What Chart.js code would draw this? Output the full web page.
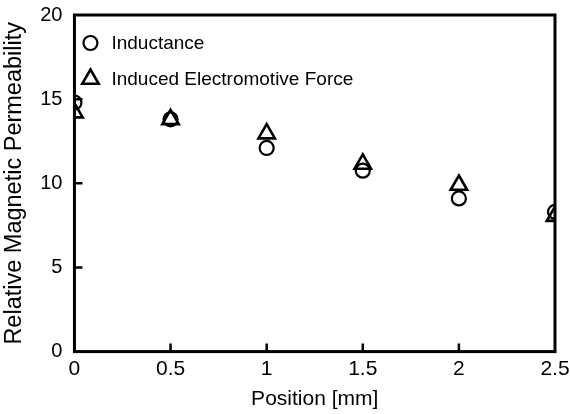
<!DOCTYPE html>
<html>
<head>
<meta charset="utf-8">
<script src="https://cdn.jsdelivr.net/npm/chart.js@4"></script>
<style>
  html, body { margin: 0; padding: 0; background: #fff; }
  #wrap { width: 570px; height: 414px; }
</style>
</head>
<body>
<div id="wrap"><canvas id="chart"></canvas></div>
<script>
const positions = [0, 0.5, 1, 1.5, 2, 2.5];
const inductance = [14.8, 13.8, 12.1, 10.75, 9.1, 8.3];
const inducedEmf = [14.2, 13.8, 12.95, 11.15, 9.9, 8.05];
const seriesNames = ['Inductance', 'Induced Electromotive Force'];

const font = '"Liberation Sans", Arial, sans-serif';

// frame around the plot plus short ticks pointing inward
const framePlugin = {
  id: 'frame',
  afterDraw(chart) {
    const { ctx, chartArea: a, scales } = chart;
    ctx.save();
    ctx.strokeStyle = '#000';
    ctx.lineWidth = 3;
    ctx.strokeRect(a.left, a.top, a.right - a.left, a.bottom - a.top);
    ctx.lineWidth = 2.5;
    ctx.beginPath();
    [0.5, 1, 1.5, 2].forEach(v => {
      const x = scales.x.getPixelForValue(v);
      ctx.moveTo(x, a.bottom);
      ctx.lineTo(x, a.bottom - 8);
    });
    [5, 10, 15].forEach(v => {
      const y = scales.y.getPixelForValue(v);
      ctx.moveTo(a.left, y);
      ctx.lineTo(a.left + 8, y);
    });
    ctx.stroke();
    ctx.restore();
  }
};

// legend sits inside the plot, top left
const insideLegend = {
  id: 'insideLegend',
  afterDraw(chart) {
    const { ctx, chartArea: a } = chart;
    ctx.save();
    ctx.font = '19px ' + font;
    ctx.textBaseline = 'middle';
    chart.data.datasets.forEach((ds, i) => {
      const y = a.top + 28 + i * 36;
      const x = a.left + 16;
      ctx.fillStyle = 'rgba(0,0,0,0)';
      ctx.strokeStyle = '#000';
      ctx.lineWidth = ds.borderWidth;
      Chart.helpers.drawPoint(ctx, {
        pointStyle: ds.pointStyle,
        radius: ds.pointRadius,
        borderWidth: ds.borderWidth
      }, x, y);
      ctx.fillStyle = '#000';
      ctx.fillText(seriesNames[i], a.left + 37, y + 1);
    });
    ctx.restore();
  }
};

new Chart(document.getElementById('chart'), {
  type: 'scatter',
  data: {
    datasets: [
      {
        label: seriesNames[0],
        data: positions.map((x, i) => ({ x, y: inductance[i] })),
        pointStyle: 'circle',
        pointRadius: 7,
        borderWidth: 2.2,
        borderColor: '#000',
        backgroundColor: 'rgba(0,0,0,0)'
      },
      {
        label: seriesNames[1],
        data: positions.map((x, i) => ({ x, y: inducedEmf[i] })),
        pointStyle: 'triangle',
        pointRadius: 9.5,
        borderWidth: 2.6,
        borderColor: '#000',
        backgroundColor: 'rgba(0,0,0,0)'
      }
    ]
  },
  options: {
    responsive: true,
    maintainAspectRatio: false,
    animation: false,
    layout: { padding: { top: 0, right: 0, left: 0, bottom: 2 } },
    plugins: {
      legend: { display: false },
      tooltip: { enabled: false }
    },
    scales: {
      x: {
        type: 'linear',
        min: 0,
        max: 2.5,
        grid: { display: false, drawTicks: false },
        border: { display: false },
        afterFit: s => { s.paddingRight = 15; },
        ticks: {
          stepSize: 0.5,
          color: '#000',
          padding: 5,
          font: { family: font, size: 21 },
          callback: v => String(v)
        },
        title: {
          display: true,
          text: 'Position [mm]',
          color: '#000',
          padding: { top: 0, bottom: 0 },
          font: { family: font, size: 21 }
        }
      },
      y: {
        min: 0,
        max: 20,
        grid: { display: false, drawTicks: false },
        border: { display: false },
        afterFit: s => { s.paddingTop = 15; },
        ticks: {
          stepSize: 5,
          color: '#000',
          padding: 12,
          font: { family: font, size: 20 }
        },
        title: {
          display: true,
          text: 'Relative Magnetic Permeability',
          color: '#000',
          padding: { top: 0, bottom: 0 },
          font: { family: font, size: 23.5 }
        }
      }
    }
  },
  plugins: [framePlugin, insideLegend]
});
</script>
</body>
</html>
